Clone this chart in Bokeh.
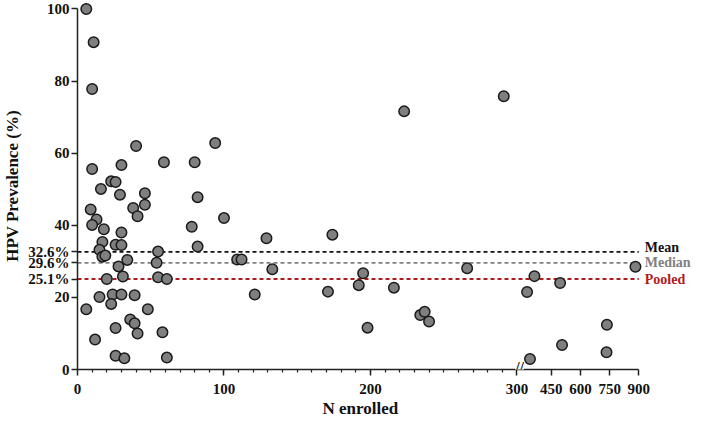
import numpy as np
from bokeh.plotting import figure
from bokeh.models import FixedTicker, Label, ColumnDataSource, Range1d, Title
from bokeh.embed import file_html
from bokeh.resources import INLINE

# ---------------- data ----------------
n_enrolled = [6, 11, 10, 40, 94, 10, 30, 59, 80, 23, 26, 16, 29, 46, 82,
              9, 38, 46, 13, 10, 41, 18, 30, 78, 100, 17, 26, 30, 82, 15,
              55, 17, 19, 34, 28, 54, 109, 112, 31, 20, 55, 61, 24, 30, 39,
              15, 121, 23, 6, 48, 36, 39, 26, 41, 58, 12, 26, 32, 61, 129,
              133, 174, 171, 195, 192, 216, 198, 234, 237, 240, 266, 223, 291,
              363, 325, 495, 736, 505, 734, 340, 883]
prevalence = [100.0, 90.8, 77.8, 62.0, 62.8, 55.6, 56.7, 57.5, 57.5, 52.2, 52.0, 50.1, 48.5, 48.9, 47.8,
              44.4, 44.8, 45.7, 41.6, 40.1, 42.5, 38.9, 38.0, 39.6, 42.0, 35.4, 34.6, 34.5, 34.1, 33.2,
              32.7, 31.3, 31.6, 30.4, 28.6, 29.6, 30.5, 30.5, 25.8, 25.1, 25.6, 25.1, 20.8, 20.8, 20.6,
              20.1, 20.8, 18.2, 16.7, 16.7, 13.9, 12.8, 11.5, 10.0, 10.3, 8.3, 3.8, 3.1, 3.3, 36.4,
              27.8, 37.4, 21.6, 26.7, 23.4, 22.7, 11.6, 15.1, 16.0, 13.3, 28.1, 71.6, 75.8,
              25.9, 21.5, 24.0, 12.4, 6.8, 4.8, 2.9, 28.5]

stat_names = ["Mean", "Median", "Pooled"]
stat_values = [32.6, 29.6, 25.1]
stat_colors = ["#111111", "#808080", "#b01c1c"]

x_tick_values = [0, 100, 200, 300, 450, 600, 750, 900]
x_minor_values = list(range(10, 300, 10))
y_tick_values = [0, 20, 40, 60, 80, 100]

# ---------------- broken x-axis scale ----------------
BREAK = 300.0
GAP = 3.6
COMPRESS = 0.1326
X_MAX = 900


def to_axis(x):
    x = np.asarray(x, dtype=float)
    return np.round(np.where(x <= BREAK, x, BREAK + GAP + (x - BREAK) * COMPRESS), 4)


x_end = float(to_axis(X_MAX))
LABEL_ROOM = 36.0  # room (axis units) to the right of 900 for the line labels

FONT = "Liberation Serif"

p = figure(width=693, height=417, output_backend="svg", toolbar_location=None,
           x_range=Range1d(0, x_end + LABEL_ROOM), y_range=Range1d(0, 101.8),
           min_border_left=72, min_border_right=2, min_border_top=2,
           min_border_bottom=0)
p.grid.visible = False
p.outline_line_color = None
p.background_fill_color = "white"

# ---------------- reference lines ----------------
stat_src = ColumnDataSource(dict(x0=[0.0] * 3, x1=[x_end] * 3, y=stat_values,
                                 color=stat_colors))
p.segment(x0="x0", y0="y", x1="x1", y1="y", source=stat_src, line_color="color",
          line_width=1.8, line_dash="4 3")

# ---------------- points ----------------
src = ColumnDataSource(dict(xu=to_axis(n_enrolled), y=prevalence))
p.scatter(x="xu", y="y", source=src, size=10.5, fill_color="#7f7f7f",
          line_color="#1a1a1a", line_width=1.5)

# ---------------- axes ----------------
tick_pos = [float(t) if t <= BREAK else float(to_axis(t)) for t in x_tick_values]
p.xaxis.ticker = FixedTicker(ticks=tick_pos, minor_ticks=[float(v) for v in x_minor_values])
p.xaxis.major_label_overrides = {pos: str(v) for pos, v in zip(tick_pos, x_tick_values)}
p.xaxis.bounds = (0, x_end)

y_ticks_all = sorted(y_tick_values + stat_values)
p.yaxis.ticker = FixedTicker(ticks=y_ticks_all)
p.yaxis.major_label_overrides = {float(v): f"{v}%" for v in stat_values}
p.yaxis.bounds = (0, 100)

p.yaxis.axis_label = "HPV Prevalence (%)"

for ax in (p.xaxis, p.yaxis):
    ax.axis_line_color = "#222222"
    ax.axis_line_width = 1.5
    ax.major_tick_line_color = "#222222"
    ax.major_tick_line_width = 1.5
    ax.minor_tick_line_color = "#222222"
    ax.minor_tick_line_width = 1.2
    ax.major_tick_in = 0
    ax.major_tick_out = 6
    ax.minor_tick_in = 0
    ax.minor_tick_out = 3
    ax.major_label_text_font = FONT
    ax.major_label_text_font_style = "bold"
    ax.major_label_text_font_size = "15px"
    ax.major_label_text_color = "#111111"
    ax.axis_label_text_font = FONT
    ax.axis_label_text_font_style = "bold"
    ax.axis_label_text_font_size = "17px"
    ax.axis_label_text_color = "#111111"

p.yaxis.minor_tick_line_color = None
p.xaxis.major_label_standoff = 8
p.yaxis.major_label_standoff = 2
p.yaxis.axis_label_standoff = 3

# x-axis title, centred under the 0-900 axis (not under the label room)
p.add_layout(Title(text="N enrolled", align="left", offset=245, text_font=FONT,
                   text_font_style="bold", text_font_size="17px",
                   text_color="#111111", standoff=0), "below")

# axis break mark
p.add_layout(Label(x=BREAK + GAP / 2, y=0, y_offset=2, text="//", text_align="center",
                   text_baseline="middle", text_font=FONT, text_font_size="16px",
                   text_font_style="bold", text_color="#222222",
                   background_fill_color="white"))

# ---------------- stat labels on the right ----------------
y_shift = [4, 0, 0]
for name, v, c, dy in zip(stat_names, stat_values, stat_colors, y_shift):
    p.add_layout(Label(x=x_end, y=v, x_offset=6, y_offset=dy, text=name,
                       text_align="left", text_baseline="middle", text_font=FONT,
                       text_font_style="bold", text_font_size="14px", text_color=c))

open("out.html", "w").write(file_html(p, INLINE))
